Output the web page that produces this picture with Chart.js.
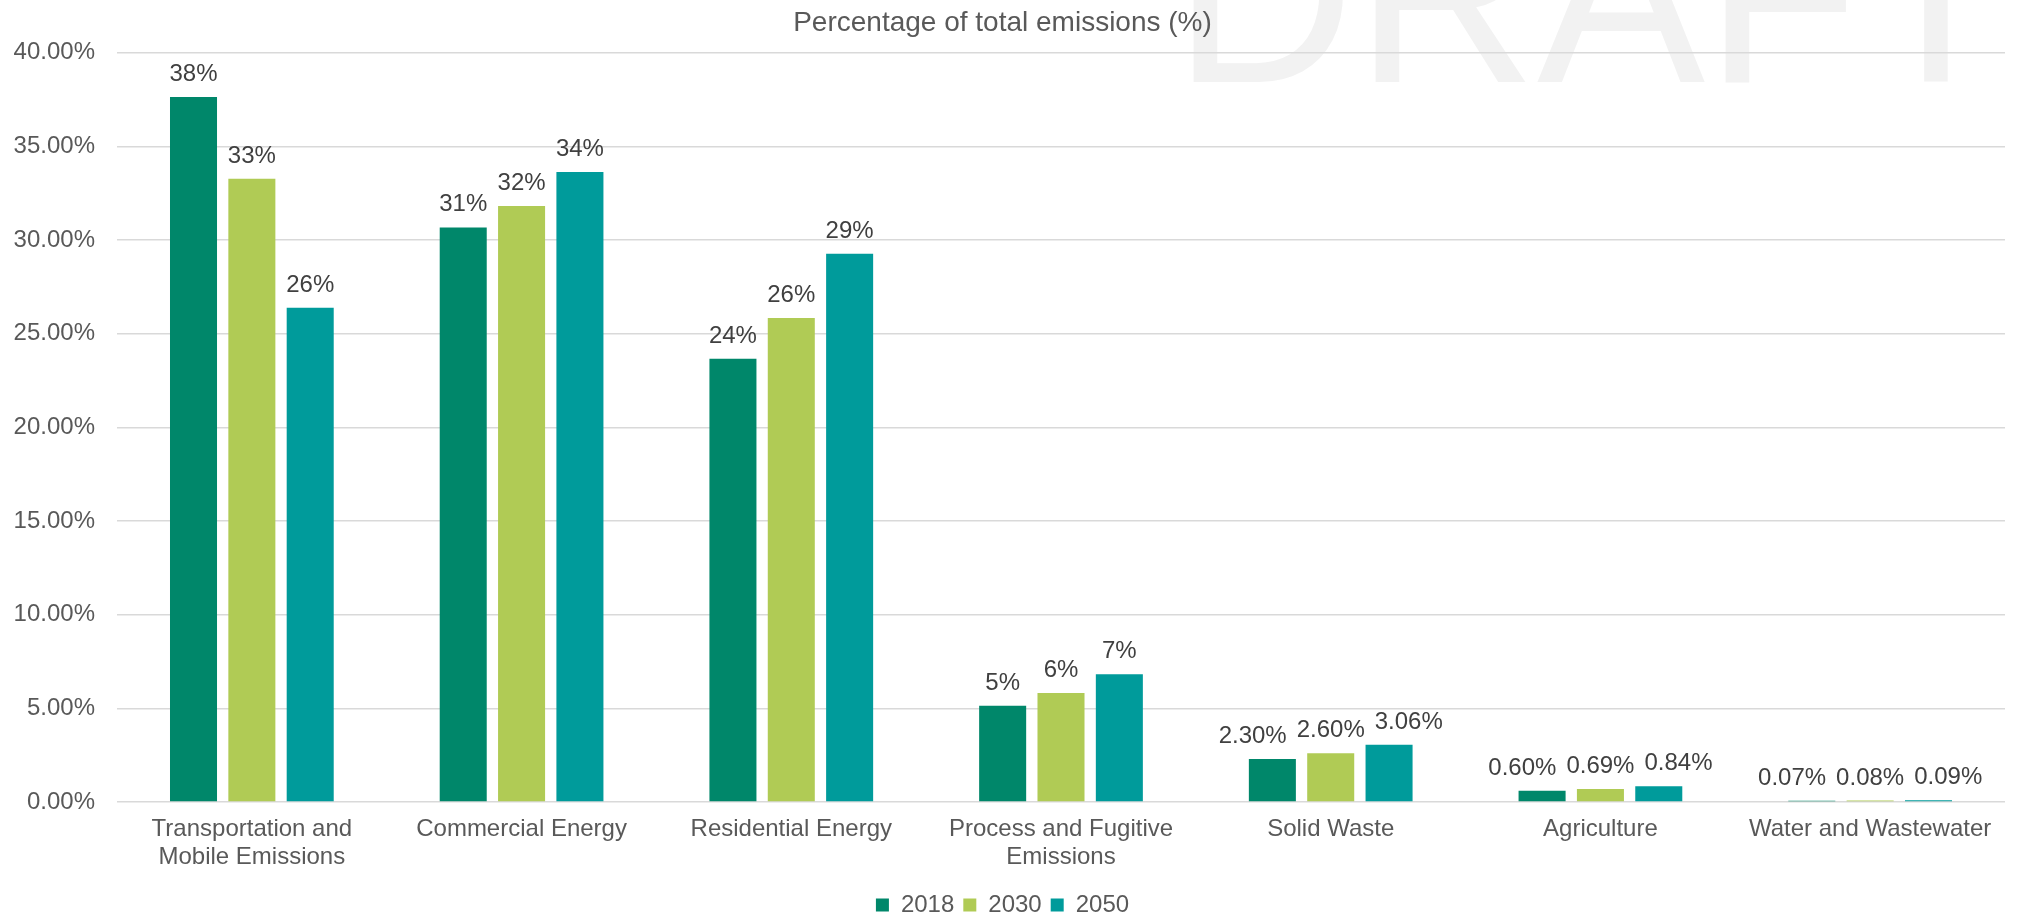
<!DOCTYPE html>
<html>
<head>
<meta charset="utf-8">
<script src="https://cdn.jsdelivr.net/npm/chart.js@4"></script>
<style>
  html, body { margin: 0; padding: 0; background: #fff; }
  #wrap { width: 2030px; height: 918px; position: relative; }
</style>
</head>
<body>
<div id="wrap"><canvas id="myChart"></canvas></div>
<script>
var categories = [
    ["Transportation and", "Mobile Emissions"],
    "Commercial Energy",
    "Residential Energy",
    ["Process and Fugitive", "Emissions"],
    "Solid Waste",
    "Agriculture",
    "Water and Wastewater"
];
var years = ["2018", "2030", "2050"];
var values2018 = [37.63, 30.67, 23.66, 5.14, 2.30, 0.60, 0.07];
var values2030 = [33.27, 31.81, 25.83, 5.82, 2.60, 0.69, 0.08];
var values2050 = [26.38, 33.63, 29.27, 6.82, 3.06, 0.84, 0.09];
// decimals shown in the data labels, per category
var labelDigits = [0, 0, 0, 0, 2, 2, 2];

var FONT = "'Liberation Sans', Arial, sans-serif";

// big "DRAFT" watermark behind everything
var watermark = {
    id: 'watermark',
    beforeDraw: function(chart) {
        var c = chart.ctx;
        c.save();
        c.font = "252px " + FONT;
        c.fillStyle = '#F2F2F2';
        c.textBaseline = 'alphabetic';
        c.textAlign = 'left';
        c.fillText('DRAFT', 1173, 82);
        c.restore();
    }
};

// value labels above bars; outer labels get pushed aside when they would overlap (like Excel does)
var barLabels = {
    id: 'barLabels',
    afterDatasetsDraw: function(chart) {
        var c = chart.ctx;
        var gap = 10;
        c.save();
        c.font = "24px " + FONT;
        c.fillStyle = '#404040';
        c.textAlign = 'center';
        c.textBaseline = 'alphabetic';
        var metas = chart.data.datasets.map(function(ds, i) { return chart.getDatasetMeta(i); });
        chart.data.labels.forEach(function(cat, j) {
            var items = chart.data.datasets.map(function(ds, i) {
                var bar = metas[i].data[j];
                var txt = ds.data[j].toFixed(labelDigits[j]) + '%';
                return { txt: txt, x: bar.x, y: bar.y, w: c.measureText(txt).width };
            });
            var m = items[1];
            var l = items[0], r = items[2];
            l.x = Math.min(l.x, m.x - m.w / 2 - gap - l.w / 2);
            r.x = Math.max(r.x, m.x + m.w / 2 + gap + r.w / 2);
            items.forEach(function(it) { c.fillText(it.txt, it.x, it.y - 16); });
        });
        c.restore();
    }
};

var ctx = document.getElementById("myChart").getContext('2d');
var myChart = new Chart(ctx, {
    type: 'bar',
    data: {
        labels: categories,
        datasets: [{
            label: years[0],
            backgroundColor: '#00876A',
            data: values2018
        },
        {
            label: years[1],
            backgroundColor: '#B0CB55',
            data: values2030
        },
        {
            label: years[2],
            backgroundColor: '#009B9B',
            data: values2050
        }]
    },
    options: {
        responsive: true,
        maintainAspectRatio: false,
        animation: false,
        events: [],
        categoryPercentage: 0.649,
        barPercentage: 0.806,
        layout: { padding: { left: 0, right: 25, top: 0, bottom: -9 } },
        scales: {
            x: {
                grid: { display: false, drawTicks: false },
                border: { display: false },
                ticks: {
                    color: '#595959',
                    font: { family: FONT, size: 24, lineHeight: 1.17 },
                    padding: 13,
                    maxRotation: 0,
                    autoSkip: false
                },
                afterFit: function(s) { s.height = 82; }
            },
            y: {
                min: 0,
                max: 40,
                grid: { color: '#D9D9D9', lineWidth: 1.5, drawTicks: false },
                border: { display: false },
                ticks: {
                    stepSize: 5,
                    color: '#595959',
                    font: { family: FONT, size: 24 },
                    padding: 22,
                    callback: function(v) { return v.toFixed(2) + '%'; }
                },
                afterFit: function(s) { s.width = 117; }
            }
        },
        plugins: {
            title: {
                display: true,
                text: 'Percentage of total emissions (%)',
                color: '#595959',
                font: { family: FONT, size: 28, weight: 'normal' },
                padding: { top: 6.5, bottom: 12.5 }
            },
            legend: {
                position: 'bottom',
                labels: {
                    color: '#595959',
                    font: { family: FONT, size: 24 },
                    boxWidth: 13,
                    boxHeight: 13,
                    padding: 9
                }
            },
            tooltip: { enabled: false }
        }
    },
    plugins: [watermark, barLabels]
});
</script>
</body>
</html>
